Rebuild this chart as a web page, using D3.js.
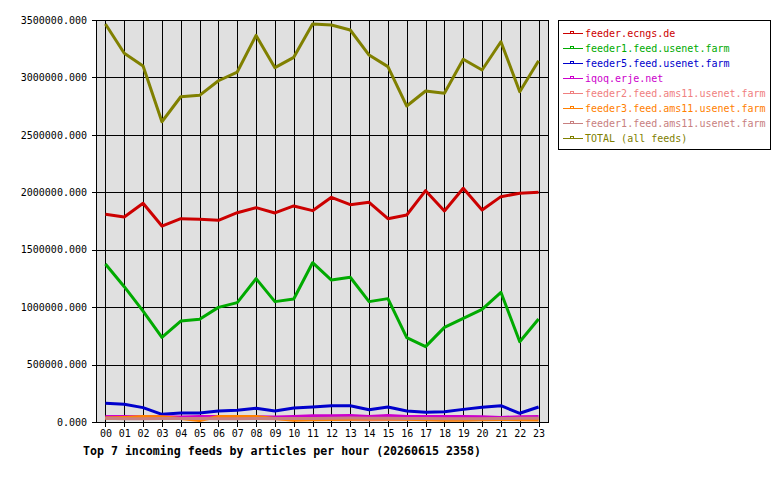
<!DOCTYPE html>
<html>
<head>
<meta charset="utf-8">
<script src="https://cdn.jsdelivr.net/npm/d3@7"></script>
<style>
  body { margin: 0; background: #fff; }
  svg { display: block; font-family: "DejaVu Sans Mono", monospace; }
</style>
</head>
<body>
<svg width="780" height="480"></svg>
<script>
const hours = ['00','01','02','03','04','05','06','07','08','09','10','11',
               '12','13','14','15','16','17','18','19','20','21','22','23'];

const feederEcngs = [1808000,1785000,1904000,1706000,1770000,1765000,1756000,1822000,1866000,1820000,1881000,1840000,
                     1956000,1892000,1913000,1770000,1802000,2014000,1837000,2035000,1846000,1962000,1991000,2000000];
const feeder1Usenet = [1376000,1178000,965000,737000,879000,894000,998000,1039000,1248000,1048000,1071000,1387000,
                       1236000,1260000,1048000,1074000,734000,656000,824000,903000,981000,1129000,699000,897000];
const feeder5Usenet = [163000,154000,125000,67000,78000,78000,96000,102000,119000,96000,122000,131000,
                       142000,142000,107000,131000,96000,84000,90000,110000,128000,142000,76000,131000];
const iqoq = [48000,48000,46000,45000,44000,47000,48000,48000,46000,44000,48000,55000,
              55000,56000,47000,56000,48000,47000,47000,47000,46000,40000,46000,48000];
const feeder2Ams = [32000,30000,30000,32000,30000,30000,32000,30000,30000,28000,25000,25000,
                    24000,22000,20000,22000,24000,25000,25000,25000,24000,26000,28000,30000];
const feeder3Ams = [34000,40000,48000,46000,30000,12000,48000,48000,48000,30000,15000,20000,
                    22000,25000,28000,26000,25000,20000,15000,15000,20000,22000,20000,18000];
const feeder1Ams = [32000,28000,28000,30000,30000,30000,28000,28000,30000,30000,30000,30000,
                    33000,34000,32000,32000,30000,30000,28000,28000,28000,30000,32000,32000];
const total = [3465000,3210000,3099000,2614000,2832000,2844000,2971000,3047000,3366000,3085000,3175000,3465000,
               3456000,3413000,3195000,3094000,2751000,2882000,2862000,3158000,3065000,3311000,2876000,3146000];

const yTicks = [0,500000,1000000,1500000,2000000,2500000,3000000,3500000];
const title = 'Top 7 incoming feeds by articles per hour (20260615 2358)';

const series = [
  { name: 'feeder.ecngs.de', color: '#cc0000', values: feederEcngs },
  { name: 'feeder1.feed.usenet.farm', color: '#00aa00', values: feeder1Usenet },
  { name: 'feeder5.feed.usenet.farm', color: '#0000cc', values: feeder5Usenet },
  { name: 'iqoq.erje.net', color: '#cc00cc', values: iqoq },
  { name: 'feeder2.feed.ams11.usenet.farm', color: '#f08080', values: feeder2Ams },
  { name: 'feeder3.feed.ams11.usenet.farm', color: '#ff8000', values: feeder3Ams },
  { name: 'feeder1.feed.ams11.usenet.farm', color: '#c88080', values: feeder1Ams },
  { name: 'TOTAL (all feeds)', color: '#808000', values: total }
];

const svg = d3.select('svg');
const m = { left: 96, top: 20, right: 232, bottom: 58 };
const W = 780 - m.left - m.right;
const H = 480 - m.top - m.bottom;
const g = svg.append('g').attr('transform', `translate(${m.left},${m.top})`);

const x = d3.scalePoint().domain(hours).range([0, W]).padding(0.5);
const y = d3.scaleLinear().domain([0, 3500000]).range([H, 0]);

g.append('rect').attr('width', W).attr('height', H).attr('fill', '#e0e0e0');

// grid
g.append('g').selectAll('line').data(yTicks).join('line')
  .attr('x1', 0).attr('x2', W)
  .attr('y1', d => Math.round(y(d)) + 0.5).attr('y2', d => Math.round(y(d)) + 0.5)
  .attr('stroke', '#000').attr('shape-rendering', 'crispEdges');
g.append('g').selectAll('line').data(hours).join('line')
  .attr('x1', d => Math.round(x(d)) + 0.5).attr('x2', d => Math.round(x(d)) + 0.5)
  .attr('y1', 0).attr('y2', H)
  .attr('stroke', '#000').attr('shape-rendering', 'crispEdges');

// frame
g.append('rect').attr('x', 0.5).attr('y', 0.5).attr('width', W).attr('height', H - 0.5)
  .attr('fill', 'none').attr('stroke', '#000').attr('shape-rendering', 'crispEdges');

// axes
const yAxis = d3.axisLeft(y).tickValues(yTicks).tickSize(4).tickPadding(5)
  .tickFormat(d3.format('.3f'));
g.append('g').call(yAxis)
  .call(a => a.select('.domain').remove())
  .call(a => a.selectAll('line').attr('shape-rendering', 'crispEdges'))
  .call(a => a.selectAll('text').attr('font-size', 10).attr('fill', '#000')
    .attr('font-family', '"DejaVu Sans Mono", monospace'));

const xAxis = d3.axisBottom(x).tickSize(5).tickPadding(3);
g.append('g').attr('transform', `translate(0,${H})`).call(xAxis)
  .call(a => a.select('.domain').remove())
  .call(a => a.selectAll('line').attr('shape-rendering', 'crispEdges'))
  .call(a => a.selectAll('text').attr('font-size', 10).attr('fill', '#000')
    .attr('font-family', '"DejaVu Sans Mono", monospace'));

// lines
const line = d3.line().x((d, i) => x(hours[i])).y(d => y(d));
g.append('g').selectAll('path').data(series).join('path')
  .attr('d', d => line(d.values))
  .attr('fill', 'none')
  .attr('stroke', d => d.color)
  .attr('stroke-width', 3)
  .attr('stroke-linejoin', 'round');

// title
svg.append('text').attr('x', 83).attr('y', 455)
  .attr('font-size', 11.6).attr('font-weight', 'bold')
  .attr('font-family', '"DejaVu Sans Mono", monospace')
  .text(title);

// legend
const lg = svg.append('g');
lg.append('rect').attr('x', 558.5).attr('y', 20.5).attr('width', 212).attr('height', 129)
  .attr('fill', '#fff').attr('stroke', '#000').attr('shape-rendering', 'crispEdges');
const item = lg.selectAll('g').data(series).join('g')
  .attr('transform', (d, i) => `translate(0,${33 + i * 15})`);
item.append('line').attr('x1', 563).attr('x2', 583).attr('y1', 0.5).attr('y2', 0.5)
  .attr('stroke', d => d.color).attr('shape-rendering', 'crispEdges');
item.append('rect').attr('x', 570.5).attr('y', -1.5).attr('width', 3).attr('height', 2)
  .attr('fill', 'none').attr('stroke', d => d.color).attr('shape-rendering', 'crispEdges');
item.append('text').attr('x', 585).attr('y', 4)
  .attr('font-size', 10).attr('fill', d => d.color)
  .text(d => d.name);
</script>
</body>
</html>
